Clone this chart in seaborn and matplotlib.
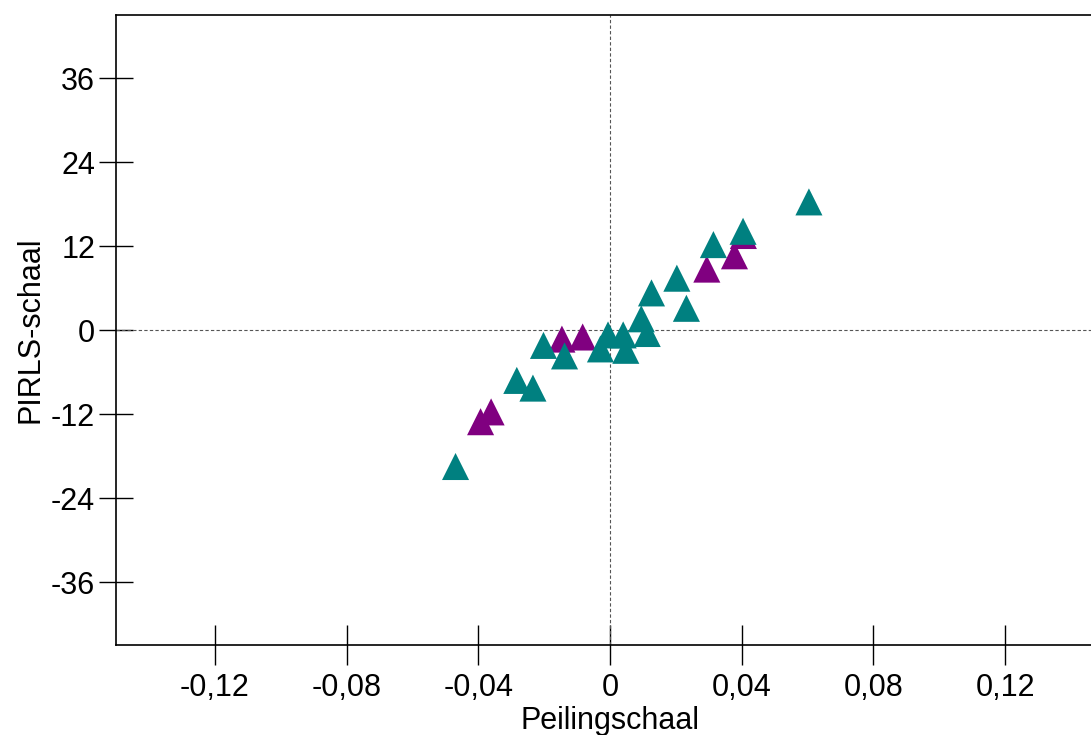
import matplotlib
matplotlib.use("Agg")
import matplotlib.pyplot as plt
import seaborn as sns
import pandas as pd
from matplotlib.ticker import FixedLocator, FuncFormatter

# Peilingschaal (x) and PIRLS-schaal (y) per item, two groups
groep_paars_x = [-0.0146, -0.0083, 0.0294, 0.0378, 0.0405, -0.0361, -0.0393]
groep_paars_y = [-1.3, -1.0, 8.7, 10.6, 13.5, -11.7, -13.1]

groep_teal_x = [0.0604, 0.0404, 0.0314, 0.0203, 0.0232, 0.0126, 0.0095, 0.0113,
                0.0040, 0.0048, -0.0006, -0.0029, -0.0138, -0.0202, -0.0283,
                -0.0234, -0.0469]
groep_teal_y = [18.3, 14.1, 12.2, 7.4, 3.1, 5.3, 1.6, -0.5,
                -0.7, -2.9, -0.7, -2.7, -3.7, -2.2, -7.2,
                -8.3, -19.5]

x_ticks = [-0.12, -0.08, -0.04, 0, 0.04, 0.08, 0.12]
y_ticks = [-36, -24, -12, 0, 12, 24, 36]

df = pd.DataFrame({
    "Peilingschaal": groep_paars_x + groep_teal_x,
    "PIRLS-schaal": groep_paars_y + groep_teal_y,
    "groep": ["paars"] * len(groep_paars_x) + ["teal"] * len(groep_teal_x),
})

sns.set_theme(style="white")
plt.rcParams["font.family"] = ["Liberation Sans", "DejaVu Sans"]
plt.rcParams["axes.unicode_minus"] = False
plt.rcParams["text.color"] = "black"
plt.rcParams["axes.labelcolor"] = "black"
plt.rcParams["xtick.color"] = "black"
plt.rcParams["ytick.color"] = "black"

fig = plt.figure(figsize=(10.91, 7.35), dpi=100)
ax = fig.add_axes([116 / 1091, 90 / 735, 988 / 1091, 630 / 735])

ax.axhline(0, color="#555555", lw=0.8, ls=(0, (3, 2)), zorder=1)
ax.axvline(0, color="#555555", lw=0.8, ls=(0, (3, 2)), zorder=1)

sns.scatterplot(data=df, x="Peilingschaal", y="PIRLS-schaal", hue="groep",
                palette={"paars": "#800080", "teal": "#008080"},
                marker="^", s=380, linewidth=0, legend=False, ax=ax, zorder=3)

ax.set_xlim(-0.15, 0.15)
ax.set_ylim(-45, 45)

ax.xaxis.set_major_locator(FixedLocator(x_ticks))
ax.yaxis.set_major_locator(FixedLocator(y_ticks))


def komma(v, pos):
    if abs(v) < 1e-12:
        return "0"
    return f"{v:.2f}".replace(".", ",")


ax.xaxis.set_major_formatter(FuncFormatter(komma))
ax.yaxis.set_major_formatter(FuncFormatter(lambda v, p: f"{int(round(v))}"))

ax.tick_params(axis="x", direction="inout", length=29, width=1.0,
               labelsize=22, labelcolor="black", pad=6, bottom=True)
ax.tick_params(axis="y", direction="inout", length=24, width=1.0,
               labelsize=22, labelcolor="black", pad=3, left=True)

for side in ["left", "bottom", "top"]:
    ax.spines[side].set_color("black")
    ax.spines[side].set_linewidth(1.2)
ax.spines["right"].set_visible(False)

ax.set_xlabel("Peilingschaal", fontsize=22, labelpad=2)
ax.set_ylabel("PIRLS-schaal", fontsize=22, labelpad=4)

fig.savefig("out.png", dpi=100)
